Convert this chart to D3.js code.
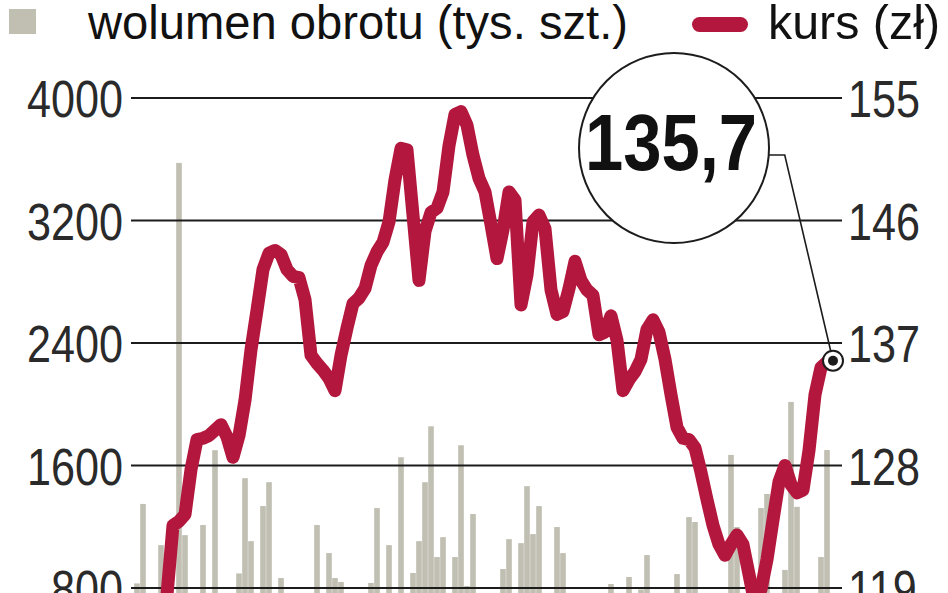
<!DOCTYPE html>
<html><head><meta charset="utf-8">
<script src="https://cdn.jsdelivr.net/npm/d3@7"></script>
<style>
html,body{margin:0;padding:0;background:#fff;overflow:hidden}
svg{display:block}
</style></head>
<body>
<svg id="c" width="948" height="593"></svg>
<script>
// ---- data ----
const volTicks = [800, 1600, 2400, 3200, 4000];
const priceTicks = [119, 128, 137, 146, 155];
const legendLabels = ["wolumen obrotu (tys. szt.)", "kurs (zł)"];
// daily trading volume (tys. szt.), one per session
const volume = [
  830,1349,520,610,1080,470,640,3576,1145,560,
  700,1211,480,1700,590,430,650,895,1517,1106,
  540,1335,1491,620,865,450,380,510,600,470,
  1211,560,1028,865,839,520,410,580,490,833,
  1322,600,1080,520,1654,640,898,1106,1491,1856,
  1002,1132,700,1002,1732,813,1283,560,470,620,
  540,924,1119,660,1093,1465,1152,1335,590,480,
  1198,1028,620,540,450,700,580,490,610,826,
  520,470,872,560,790,1015,480,530,610,720,
  891,560,1263,1231,640,520,590,470,680,1669,
  1198,560,430,620,1322,1414,590,700,918,2015,
  1330,650,540,710,1002,1701,620
];
// closing price (zł), one per session
const price = [
  null,null,null,null,116.3,118.5,123.6,123.9,124.4,127.7,
  129.9,130.0,130.2,130.6,131.0,130.1,128.6,130.2,132.8,136.5,
  139.4,142.4,143.6,143.8,143.5,142.4,141.9,141.8,140.2,136.1,
  135.5,135.0,134.4,133.5,136.1,138.1,139.9,140.3,141.0,142.7,
  143.7,144.4,145.9,149.0,151.3,151.2,146.4,141.6,145.2,146.6,
  146.9,148.1,151.5,153.8,154.0,153.0,150.8,149.1,148.1,145.7,
  143.2,145.3,148.1,147.5,139.8,142.0,145.9,146.4,145.4,140.9,
  139.1,139.3,141.0,143.0,141.6,140.9,140.5,137.6,137.8,139.0,
  137.2,133.5,134.3,134.9,135.8,138.0,138.7,137.8,135.8,133.2,
  130.8,130.0,129.9,129.3,127.5,125.5,123.6,122.2,121.4,122.2,
  122.9,122.2,120.0,117.8,118.9,121.1,124.0,126.8,128.0,126.6,
  126.0,126.2,129.1,133.2,135.2,135.6,135.7
];
const days = d3.range(volume.length);

// ---- styles ----
const BAR = "#c0bfb2", LINE = "#b3173d", INK = "#1c1c1c";
const FONT = "'Liberation Sans',Arial,sans-serif";

const svg = d3.select("#c");

const x = d3.scaleLinear().domain([0, days.length - 1]).range([137, 833]);
const yV = d3.scaleLinear().domain([800, 4000]).range([588, 98]);
const yP = d3.scaleLinear().domain([119, 155]).range([588, 98]);
const bw = 5.6;

// bars
svg.append("g").selectAll("rect").data(days).join("rect")
  .attr("x", d => x(d) - bw/2)
  .attr("width", bw)
  .attr("y", d => yV(volume[d]))
  .attr("height", d => yV(0) - yV(volume[d]))
  .attr("fill", BAR);

// gridlines
svg.append("g").selectAll("line").data(volTicks).join("line")
  .attr("x1", 131).attr("x2", 842)
  .attr("y1", d => yV(d)).attr("y2", d => yV(d))
  .attr("stroke", INK).attr("stroke-width", 2);

// axes
const axL = svg.append("g").attr("transform", "translate(123,0)")
  .call(d3.axisLeft(yV).tickValues(volTicks).tickFormat(d3.format("d")).tickSize(0).tickPadding(0));
const axR = svg.append("g").attr("transform", "translate(848,0)")
  .call(d3.axisRight(yP).tickValues(priceTicks).tickFormat(d3.format("d")).tickSize(0).tickPadding(0));
[axL, axR].forEach(a => {
  a.select(".domain").remove();
  a.selectAll("text").attr("font-family", FONT).attr("font-size", 52)
   .attr("fill", "#2a2a2a").attr("dy", "0.36em")
   .attr("transform", "scale(0.83,1)");
});

// price line
const line = d3.line().defined(d => price[d] != null)
  .x(d => x(d)).y(d => yP(price[d]));
svg.append("path").datum(days).attr("d", line)
  .attr("fill", "none").attr("stroke", LINE).attr("stroke-width", 13)
  .attr("stroke-linejoin", "round").attr("stroke-linecap", "butt");

// annotation
const last = days.length - 1;
const mx = x(last), my = yP(price[last]);
const cx = 674, cy = 148, r = 95;
const ly = 155, ex = cx + Math.sqrt(r*r - (ly-cy)*(ly-cy));
svg.append("path")
  .attr("d", `M${ex},${ly}H${ex+16}L${mx},${my}`)
  .attr("fill", "none").attr("stroke", INK).attr("stroke-width", 1.6);
svg.append("circle").attr("cx", cx).attr("cy", cy).attr("r", r)
  .attr("fill", "#fff").attr("stroke", INK).attr("stroke-width", 2);
svg.append("text").attr("x", 671).attr("y", 170)
  .attr("text-anchor", "middle").attr("font-family", FONT)
  .attr("font-weight", "bold").attr("font-size", 80).attr("fill", "#111")
  .attr("textLength", 172).attr("lengthAdjust", "spacingAndGlyphs")
  .text(d3.format(".1f")(price[last]).replace(".", ","));
svg.append("circle").attr("cx", mx).attr("cy", my).attr("r", 10)
  .attr("fill", "#fff").attr("stroke", INK).attr("stroke-width", 2);
svg.append("circle").attr("cx", mx).attr("cy", my).attr("r", 5).attr("fill", INK);

// legend
svg.append("rect").attr("x", 9).attr("y", 9).attr("width", 27).attr("height", 25).attr("fill", BAR);
svg.append("text").attr("x", 88).attr("y", 39).attr("font-family", FONT)
  .attr("font-size", 48).attr("fill", "#111")
  .attr("textLength", 540).attr("lengthAdjust", "spacingAndGlyphs")
  .text(legendLabels[0]);
svg.append("rect").attr("x", 692).attr("y", 17).attr("width", 56).attr("height", 15)
  .attr("rx", 7.5).attr("fill", LINE);
svg.append("text").attr("x", 768).attr("y", 39).attr("font-family", FONT)
  .attr("font-size", 48).attr("fill", "#111")
  .attr("textLength", 172).attr("lengthAdjust", "spacingAndGlyphs")
  .text(legendLabels[1]);
</script>
</body></html>
